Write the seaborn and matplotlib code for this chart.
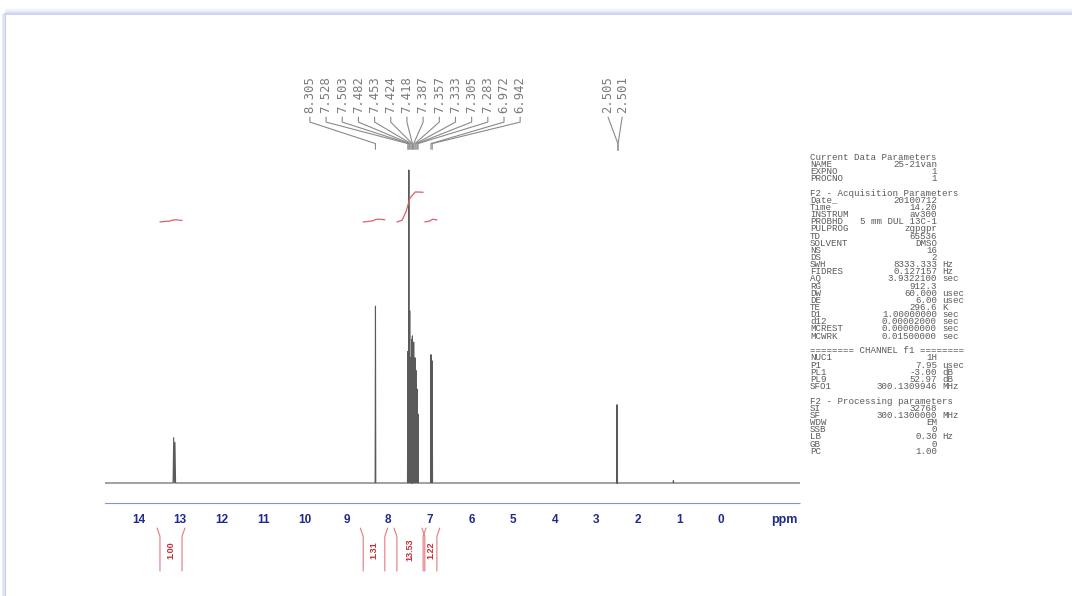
import numpy as np
import pandas as pd
import seaborn as sns
import matplotlib.pyplot as plt
import matplotlib.transforms as mtransforms
from matplotlib.lines import Line2D
from matplotlib.ticker import MultipleLocator

# peak list (ppm, height relative to tallest line)
peak_ppm = [13.15, 13.12, 8.305, 7.528, 7.503, 7.482, 7.453, 7.424, 7.418,
            7.387, 7.357, 7.333, 7.305, 7.283, 6.972, 6.942, 2.505, 2.501, 1.15]
peak_height = [0.145, 0.13, 0.565, 0.42, 1.00, 0.55, 0.40, 0.46, 0.47,
               0.45, 0.40, 0.36, 0.30, 0.22, 0.41, 0.39, 0.25, 0.235, 0.008]

# picked peak labels (top of the plot)
labels_arom = ["8.305", "7.528", "7.503", "7.482", "7.453", "7.424", "7.418",
               "7.387", "7.357", "7.333", "7.305", "7.283", "6.972", "6.942"]
labels_dmso = ["2.505", "2.501"]

# integrals
integral_from = [13.48, 8.60, 7.79, 7.12]
integral_to = [12.95, 8.08, 7.16, 6.83]
integral_value = [1.00, 1.31, 13.53, 1.22]
integral_text = ["1.00", "1.31", "13.53", "1.22"]

tick_ppm = list(range(14, -1, -1))

# acquisition / processing parameters (key, value, unit); None = blank line
params = [
    ("Current Data Parameters", "", ""),
    ("NAME", "25-21van", ""),
    ("EXPNO", "1", ""),
    ("PROCNO", "1", ""),
    None,
    ("F2 - Acquisition Parameters", "", ""),
    ("Date_", "20100712", ""),
    ("Time", "14.20", ""),
    ("INSTRUM", "av300", ""),
    ("PROBHD", "5 mm DUL 13C-1", ""),
    ("PULPROG", "zgpgpr", ""),
    ("TD", "65536", ""),
    ("SOLVENT", "DMSO", ""),
    ("NS", "16", ""),
    ("DS", "2", ""),
    ("SWH", "8333.333", "Hz"),
    ("FIDRES", "0.127157", "Hz"),
    ("AQ", "3.9322100", "sec"),
    ("RG", "912.3", ""),
    ("DW", "60.000", "usec"),
    ("DE", "6.00", "usec"),
    ("TE", "296.6", "K"),
    ("D1", "1.00000000", "sec"),
    ("d12", "0.00002000", "sec"),
    ("MCREST", "0.00000000", "sec"),
    ("MCWRK", "0.01500000", "sec"),
    None,
    ("======== CHANNEL f1 ========", "", ""),
    ("NUC1", "1H", ""),
    ("P1", "7.95", "usec"),
    ("PL1", "-3.00", "dB"),
    ("PL9", "52.97", "dB"),
    ("SFO1", "300.1309946", "MHz"),
    None,
    ("F2 - Processing parameters", "", ""),
    ("SI", "32768", ""),
    ("SF", "300.1300000", "MHz"),
    ("WDW", "EM", ""),
    ("SSB", "0", ""),
    ("LB", "0.30", "Hz"),
    ("GB", "0", ""),
    ("PC", "1.00", ""),
]

sns.set_style("white")
plt.rcParams['font.family'] = ['DejaVu Sans']

W, H = 1072, 596
fig = plt.figure(figsize=(W / 100, H / 100), dpi=100)
fig.patch.set_facecolor("white")

def fx(px):
    return px / W

def fy(py):
    return 1 - py / H

# panel frame (light blue border with a soft shadow)
for i, a in enumerate([0.08, 0.12, 0.18, 0.28, 0.45]):
    fig.add_artist(Line2D([fx(6), 1], [fy(9 + i), fy(9 + i)],
                          color="#b8c4e6", alpha=a, lw=1.2, transform=fig.transFigure))
fig.add_artist(Line2D([fx(6), 1], [fy(14), fy(14)], color="#c6d0ec", lw=1.2,
                      transform=fig.transFigure))
fig.add_artist(Line2D([fx(5), fx(5)], [fy(14), 0], color="#c6d0ec", lw=1.5,
                      transform=fig.transFigure))
fig.add_artist(Line2D([fx(3), fx(3)], [fy(14), 0], color="#dfe5f5", lw=2,
                      transform=fig.transFigure))

ax = fig.add_axes([fx(105), fy(503), fx(800) - fx(105), (503 - 145) / H])

# spectrum trace: baseline with each picked line drawn as a narrow peak
xs, ys = [14.80], [0.0]
for p, h in sorted(zip(peak_ppm, peak_height), reverse=True):
    w = 0.015 if p > 13 else 0.008
    xs += [p + w, p, p - w]
    ys += [0.0, h, 0.0]
xs.append(-1.89)
ys.append(0.0)
trace = pd.DataFrame({"ppm": xs, "intensity": ys})
sns.lineplot(data=trace, x="ppm", y="intensity", sort=False, estimator=None,
             color="#5a5a5a", lw=0.8, ax=ax)

ax.set_xlim(14.80, -1.89)
ax.set_ylim(-20 / 313, -20 / 313 + 358 / 313)
ax.set_xlabel("")
ax.set_ylabel("")
ax.set_yticks([])
for s in ["top", "left", "right"]:
    ax.spines[s].set_visible(False)
ax.spines["bottom"].set_color("#8a92c8")
ax.spines["bottom"].set_linewidth(0.8)
ax.spines["bottom"].set_linestyle((0, (1, 1)))
ax.set_xticks(tick_ppm)
ax.set_xticklabels([str(t) for t in tick_ppm], fontsize=8.5, fontweight="bold",
                   color="#1f2a8a", family="Liberation Sans")
ax.xaxis.set_minor_locator(MultipleLocator(0.1))
ax.tick_params(axis="x", which="major", direction="in", length=3.5, width=0.8,
               color="#8a92c8", pad=8)
ax.tick_params(axis="x", which="minor", direction="in", length=1.8, width=0.6,
               color="#a6acd6")

trans = mtransforms.blended_transform_factory(ax.transData, ax.transAxes)
ax.text(-1.52, -0.047, "ppm", transform=trans, fontsize=9, fontweight="bold",
        color="#1f2a8a", family="Liberation Sans", ha="center", va="center")

# peak labels with connectors
label_x = np.linspace(9.88, 4.83, len(labels_arom))
for lx, lab in zip(label_x, labels_arom):
    p = float(lab)
    ax.text(lx, 1.089, lab, transform=trans, rotation=90, ha="center", va="bottom",
            fontsize=8.8, family="DejaVu Sans Mono", color="#7a7a7a")
    ax.add_line(Line2D([lx, lx, p, p], [1.078, 1.064, 1.004, 0.988], transform=trans,
                       color="#8a8a8a", lw=0.8, clip_on=False))
for lx, lab in zip([2.72, 2.38], labels_dmso):
    ax.text(lx, 1.089, lab, transform=trans, rotation=90, ha="center", va="bottom",
            fontsize=8.8, family="DejaVu Sans Mono", color="#7a7a7a")
    ax.add_line(Line2D([lx, 2.48, 2.48], [1.078, 1.003, 0.985], transform=trans,
                       color="#8a8a8a", lw=0.8, clip_on=False))

# integral curves above the peaks
for a, b, v, txt in zip(integral_from, integral_to, integral_value, integral_text):
    base = 0.785
    rise = v * 0.0062
    span = (a - b)
    if v > 5:
        px = [a, a - 0.2 * span, a - 0.35 * span, a - 0.5 * span, a - 0.7 * span, b]
        py = [base, base + 0.005, base + 0.35 * rise, base + 0.8 * rise, base + rise, base + rise * 0.99]
    else:
        px = [a, a - 0.3 * span, a - 0.45 * span, a - 0.55 * span, a - 0.7 * span, b]
        py = [base, base + 0.002, base + 0.4 * rise, base + 0.8 * rise, base + rise, base + rise - 0.002]
    ax.add_line(Line2D(px, py, transform=trans, color="#d9606a", lw=0.9, clip_on=False))

    # bracket + value below the axis
    mid = (a + b) / 2
    for edge, out in [(a, 0.07), (b, -0.07)]:
        ax.add_line(Line2D([edge + out, edge, edge], [-0.07, -0.093, -0.19],
                           transform=trans, color="#e07a80", lw=0.8, clip_on=False))
    ax.text(mid, -0.131, txt, transform=trans, rotation=90, ha="center", va="center",
            fontsize=6.5, color="#c0303a", family="Liberation Sans", fontweight="bold")

# parameter block on the right
y = 157
for row in params:
    if row is None:
        y += 7.5
        continue
    key, val, unit = row
    kw = dict(fontsize=6.6, family="Liberation Mono", color="#5a5a5a", va="center")
    fig.text(fx(810), fy(y), key, ha="left", **kw)
    if val:
        fig.text(fx(937), fy(y), val, ha="right", **kw)
    if unit:
        fig.text(fx(942), fy(y), unit, ha="left", **kw)
    y += 7.15

fig.savefig("out.png", dpi=100)
